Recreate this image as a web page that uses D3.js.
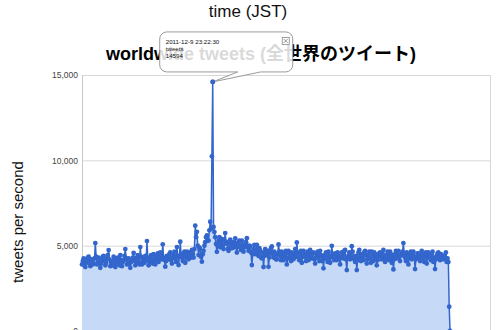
<!DOCTYPE html>
<html><head><meta charset="utf-8">
<script src="https://cdn.jsdelivr.net/npm/d3@7"></script>
<style>body{margin:0;background:#fff}svg{display:block}</style>
</head><body>
<svg id="c" width="500" height="330"></svg>
<script>
// ---- data (tweets per second, regular samples) ----
const tweets = [
 3900,4100,4250,3850,3750,4000,4100,4300,4350,3950,3800,4150,4200,3900,3950,4250,5150,4350,3900,4050,
 4300,4000,3700,3950,4150,4350,4400,4100,3850,4000,4250,4450,4740,4200,3800,4050,4100,3850,4350,4200,
 3750,4000,4200,4300,4000,3850,4450,4150,3800,4050,4150,4400,4800,4250,3900,4100,4250,3950,3700,4050,
 4100,4300,4570,4200,3850,4050,4300,4450,4000,3900,4920,4350,3900,4100,4250,4000,4400,4150,5270,4300,
 3850,4050,4300,4450,4100,3950,4500,4250,3900,4150,4350,4550,4050,4300,4600,4200,4450,5080,4300,4150,
 3770,4100,4400,4250,4200,4500,4600,4150,3950,4300,4450,4650,4250,4050,4920,4400,3860,4350,5230,4500,
 4300,4100,4550,4650,4000,4350,4650,4450,4200,4600,4500,4300,4750,4500,4300,4800,6170,5500,5810,5000,
 4450,4900,4800,4350,4060,4500,4700,5000,5200,5500,5600,5300,5300,5900,6400,6000,10234,14594,6100,5800,
 5500,5100,4640,5000,5300,5500,4900,5200,5400,5000,4800,5300,5740,5200,5100,4800,4700,5250,5350,4950,
 4850,5100,5200,4900,5430,5150,4600,4950,5100,5300,4900,4750,5300,5050,4650,4900,5000,5200,5440,4900,
 4700,5000,4950,4600,3860,4500,4800,5050,4500,4750,5050,4650,4400,4850,4700,4300,4250,4600,3750,4400,
 4800,4550,4450,4700,3760,4300,4600,4850,4950,4500,4300,4650,4550,4200,4200,4500,5070,4650,4400,4150,
 4650,4450,4150,4300,4500,4700,3900,4250,4700,4550,4350,4100,4600,4400,4200,4500,4800,4350,5190,4600,
 4300,4150,4550,4700,4000,4350,4700,4500,4350,4100,4500,4650,4150,4400,4750,4300,4250,4550,4600,4200,
 3950,4300,4500,4650,4300,4100,4700,4450,4100,4400,3670,4250,4450,4600,4250,4050,4650,4400,4000,4350,
 4990,4500,4300,4150,4550,4350,4150,4600,4400,4250,3900,4300,4600,4450,4250,4700,4750,4200,3570,4300,
 4400,4600,4200,4350,4970,4650,4350,4200,4050,4400,3570,4150,4600,4750,4300,4100,4500,4350,4150,4600,
 4700,4450,3950,4200,4450,4650,4250,4000,4650,4400,4100,4600,4500,4250,3850,4150,4400,4550,4600,4350,
 4200,4500,4750,4300,4050,4250,4450,4650,4300,4150,4650,4500,4000,4350,3610,4200,4500,4700,4250,4450,
 4700,4350,4100,4450,4550,4650,5150,4400,4300,4100,4600,4500,3900,4300,4450,4650,4200,4500,4650,4350,
 3630,4200,4350,4550,4550,4300,4100,4450,4700,4500,4250,4050,4450,4600,3950,4300,4600,4450,4300,4150,
 4500,4650,4050,4300,3630,4200,4400,4550,4600,4300,4150,4500,4450,4250,4200,4400,4350,4600,4050,4250,
 4040,1420,0
];
const yTicks = [0, 5000, 10000, 15000];
const xExtent = [0, 490];
const tooltipLines = ["2011-12-9 23:22:30", "tweets", "14594"];
const titleText = "worldwide tweets (全世界のツイート)";
const xTitle = "time (JST)";
const yTitle = "tweets per second";

const svg = d3.select("#c");
const FONT = "'Liberation Sans', Arial, 'Noto Sans CJK JP', sans-serif";
const L = 82, R = 490, T = 75, B = 331;
const x = d3.scaleLinear().domain(xExtent).range([L, R]);
const y = d3.scaleLinear().domain([0, 15000]).range([B, T]);

svg.append("text").attr("x", 248).attr("y", 17).attr("text-anchor", "middle")
  .attr("font-family", FONT).attr("font-size", 17).attr("fill", "#111").text(xTitle);

svg.append("text").attr("transform", "translate(23,222) rotate(-90)")
  .attr("text-anchor", "middle").attr("font-family", FONT).attr("font-size", 15)
  .attr("fill", "#111").text(yTitle);

svg.append("text").attr("x", 261).attr("y", 60).attr("text-anchor", "middle")
  .attr("font-family", FONT).attr("font-size", 18).attr("font-weight", "bold")
  .attr("fill", "#000").text(titleText);

svg.append("g").selectAll("line").data(yTicks.filter(d => d > 0)).join("line")
  .attr("x1", L).attr("x2", R).attr("y1", d => y(d) + 0.5).attr("y2", d => y(d) + 0.5)
  .attr("stroke", "#d8d8d8").attr("stroke-width", 1);
svg.append("line").attr("x1", R + 0.5).attr("x2", R + 0.5).attr("y1", T).attr("y2", B)
  .attr("stroke", "#d8d8d8");
svg.append("line").attr("x1", L + 0.5).attr("x2", L + 0.5).attr("y1", T).attr("y2", B)
  .attr("stroke", "#c8c8c8");

const yAxis = d3.axisLeft(y).tickValues(yTicks).tickSize(0).tickPadding(4)
  .tickFormat(d3.format(","));
const ga = svg.append("g").attr("transform", `translate(${L},0)`).call(yAxis);
ga.select(".domain").remove();
ga.selectAll("text").attr("font-family", FONT).attr("font-size", 8.5).attr("fill", "#444");

const area = d3.area().x((d, i) => x(i)).y0(y(0)).y1(d => y(d));
const line = d3.line().x((d, i) => x(i)).y(d => y(d));
svg.append("path").datum(tweets).attr("d", area).attr("fill", "#c6d9f6");
svg.append("path").datum(tweets).attr("d", line).attr("fill", "none")
  .attr("stroke", "#3366cc").attr("stroke-width", 1.5).attr("stroke-linejoin", "round");
svg.append("g").selectAll("circle").data(tweets).join("circle")
  .attr("cx", (d, i) => x(i)).attr("cy", d => y(d)).attr("r", 2.4).attr("fill", "#3366cc");

// tooltip anchored at the peak
const peakIndex = d3.maxIndex(tweets);
const px = x(peakIndex), py = y(tweets[peakIndex]);
const bl = px - 53, br = px + 80, bt = py - 50, bb = py - 10, r = 7;
const t1 = px + 25, t2 = px + 48;
const tipPath = `M${bl + r},${bt} H${br - r} A${r},${r} 0 0 1 ${br},${bt + r} V${bb - r}` +
  ` A${r},${r} 0 0 1 ${br - r},${bb} H${t2} L${px},${py} L${t1},${bb} H${bl + r}` +
  ` A${r},${r} 0 0 1 ${bl},${bb - r} V${bt + r} A${r},${r} 0 0 1 ${bl + r},${bt} Z`;
svg.append("path").attr("d", tipPath).attr("fill", "#fff").attr("fill-opacity", 0.85)
  .attr("stroke", "#9a9a9a").attr("stroke-width", 1);
svg.append("circle").attr("cx", px).attr("cy", py).attr("r", 2.4).attr("fill", "#3366cc");
const tt = svg.append("g").attr("font-family", FONT).attr("font-size", 6.2).attr("fill", "#111");
tooltipLines.forEach((s, i) => {
  tt.append("text").attr("x", bl + 6).attr("y", bt + 12.2 + i * 7).text(s);
});
const cx0 = br - 11, cy0 = bt + 5;
svg.append("rect").attr("x", cx0 + 0.5).attr("y", cy0 + 0.5).attr("width", 7).attr("height", 7)
  .attr("fill", "#fff").attr("stroke", "#888").attr("stroke-width", 0.8);
svg.append("path").attr("d", `M${cx0 + 2},${cy0 + 2} L${cx0 + 6},${cy0 + 6} M${cx0 + 6},${cy0 + 2} L${cx0 + 2},${cy0 + 6}`)
  .attr("stroke", "#777").attr("stroke-width", 0.8);
</script>
</body></html>
